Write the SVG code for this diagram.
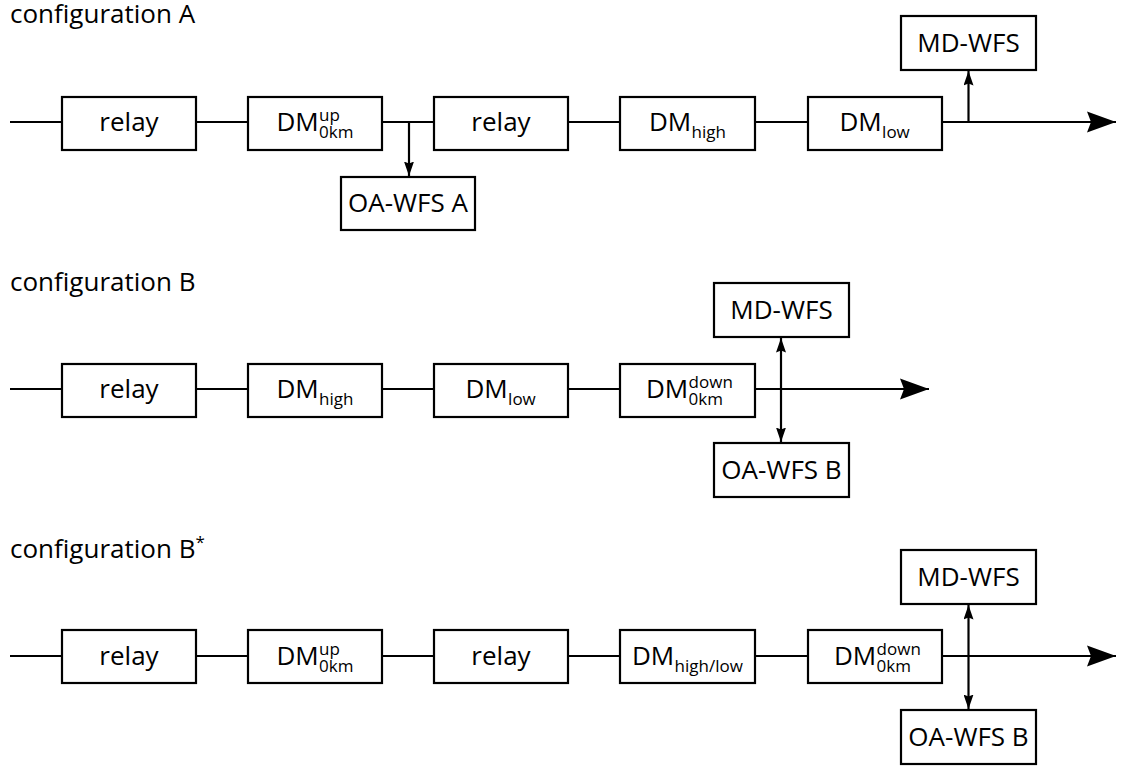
<svg xmlns="http://www.w3.org/2000/svg" width="1121" height="767" viewBox="0 0 1121 767">
<style>
  .box { fill: #ffffff; stroke: #000000; stroke-width: 2.2; }
  .ln { fill: none; stroke: #000000; stroke-width: 2.2; }
  text { font-family: "Open Sans", "Noto Sans", sans-serif; fill: #000000; }
  .lbl { font-size: 26px; }
  .ctr { text-anchor: middle; }
  .sm { font-size: 17px; }
</style>
<defs>
  <marker id="big" markerUnits="userSpaceOnUse" viewBox="0 0 30 22" markerWidth="30" markerHeight="22" refX="29" refY="11" orient="auto">
    <path d="M29,11 L0,0.5 L4,11 L0,21.5 Z" fill="#000"/>
  </marker>
  <marker id="small" markerUnits="userSpaceOnUse" viewBox="0 0 15 10" markerWidth="15" markerHeight="10" refX="14.5" refY="5" orient="auto-start-reverse">
    <path d="M14.5,5 L0,0 L2,5 L0,10 Z" fill="#000"/>
  </marker>
</defs>

<!-- titles -->
<text class="lbl" x="10" y="23">configuration A</text>
<text class="lbl" x="10" y="291">configuration B</text>
<text class="lbl" x="10" y="558">configuration B<tspan class="sm" dy="-10">*</tspan></text>

<!-- connectors -->
<g id="connectors">
  <!-- config A -->
  <path class="ln" d="M10,122 H62 M196,122 H248 M382,122 H434 M568,122 H620 M755,122 H808"/>
  <path class="ln" d="M942,122 H1116" marker-end="url(#big)"/>
  <path class="ln" d="M409,122 V176" marker-end="url(#small)"/>
  <path class="ln" d="M968.5,122 V71" marker-end="url(#small)"/>
  <!-- config B -->
  <path class="ln" d="M10,389 H62 M196,389 H248 M382,389 H434 M568,389 H620"/>
  <path class="ln" d="M755,389 H929" marker-end="url(#big)"/>
  <path class="ln" d="M781,338 V442" marker-start="url(#small)" marker-end="url(#small)"/>
  <!-- config B* -->
  <path class="ln" d="M10,656 H62 M196,656 H248 M382,656 H434 M568,656 H620 M755,656 H808"/>
  <path class="ln" d="M942,656 H1116" marker-end="url(#big)"/>
  <path class="ln" d="M968.5,605 V709" marker-start="url(#small)" marker-end="url(#small)"/>
</g>

<!-- configuration A nodes -->
<g id="a-relay1">
  <rect class="box" x="62" y="97" width="134" height="53"/>
  <text class="lbl ctr" x="129" y="131">relay</text>
</g>
<g id="a-dm0km-up">
  <rect class="box" x="248" y="97" width="134" height="53"/>
  <text class="lbl" x="276.5" y="131">DM</text>
  <text class="sm" x="319" y="121">up</text>
  <text class="sm" x="319" y="138">0km</text>
</g>
<g id="a-relay2">
  <rect class="box" x="434" y="97" width="134" height="53"/>
  <text class="lbl ctr" x="501" y="131">relay</text>
</g>
<g id="a-dmhigh">
  <rect class="box" x="620" y="97" width="135" height="53"/>
  <text class="lbl" x="649" y="131">DM</text>
  <text class="sm" x="691.6" y="138">high</text>
</g>
<g id="a-dmlow">
  <rect class="box" x="808" y="97" width="134" height="53"/>
  <text class="lbl" x="839.5" y="131">DM</text>
  <text class="sm" x="882.1" y="138">low</text>
</g>
<g id="a-mdwfs">
  <rect class="box" x="901" y="16" width="135" height="54"/>
  <text class="lbl ctr" x="968.5" y="52">MD-WFS</text>
</g>
<g id="a-oawfs">
  <rect class="box" x="341" y="177" width="134" height="53"/>
  <text class="lbl ctr" x="408" y="212">OA-WFS A</text>
</g>

<!-- configuration B nodes -->
<g id="b-relay">
  <rect class="box" x="62" y="364" width="134" height="53"/>
  <text class="lbl ctr" x="129" y="398">relay</text>
</g>
<g id="b-dmhigh">
  <rect class="box" x="248" y="364" width="134" height="53"/>
  <text class="lbl" x="276.5" y="398">DM</text>
  <text class="sm" x="319.1" y="405">high</text>
</g>
<g id="b-dmlow">
  <rect class="box" x="434" y="364" width="134" height="53"/>
  <text class="lbl" x="465.5" y="398">DM</text>
  <text class="sm" x="508.1" y="405">low</text>
</g>
<g id="b-dm0km-down">
  <rect class="box" x="620" y="364" width="135" height="53"/>
  <text class="lbl" x="646" y="398">DM</text>
  <text class="sm" x="688.6" y="388">down</text>
  <text class="sm" x="688.6" y="405">0km</text>
</g>
<g id="b-mdwfs">
  <rect class="box" x="714" y="283" width="135" height="54"/>
  <text class="lbl ctr" x="781.5" y="319">MD-WFS</text>
</g>
<g id="b-oawfs">
  <rect class="box" x="714" y="443" width="135" height="54"/>
  <text class="lbl ctr" x="781.5" y="479">OA-WFS B</text>
</g>

<!-- configuration B* nodes -->
<g id="c-relay1">
  <rect class="box" x="62" y="630" width="134" height="53"/>
  <text class="lbl ctr" x="129" y="665">relay</text>
</g>
<g id="c-dm0km-up">
  <rect class="box" x="248" y="630" width="134" height="53"/>
  <text class="lbl" x="276.5" y="665">DM</text>
  <text class="sm" x="319" y="655">up</text>
  <text class="sm" x="319" y="672">0km</text>
</g>
<g id="c-relay2">
  <rect class="box" x="434" y="630" width="134" height="53"/>
  <text class="lbl ctr" x="501" y="665">relay</text>
</g>
<g id="c-dmhighlow">
  <rect class="box" x="620" y="630" width="135" height="53"/>
  <text class="lbl" x="632" y="665">DM</text>
  <text class="sm" x="674.6" y="672">high/low</text>
</g>
<g id="c-dm0km-down">
  <rect class="box" x="808" y="630" width="134" height="53"/>
  <text class="lbl" x="834" y="665">DM</text>
  <text class="sm" x="876.6" y="655">down</text>
  <text class="sm" x="876.6" y="672">0km</text>
</g>
<g id="c-mdwfs">
  <rect class="box" x="901" y="550" width="135" height="54"/>
  <text class="lbl ctr" x="968.5" y="586">MD-WFS</text>
</g>
<g id="c-oawfs">
  <rect class="box" x="901" y="710" width="135" height="54"/>
  <text class="lbl ctr" x="968.5" y="746">OA-WFS B</text>
</g>
</svg>
